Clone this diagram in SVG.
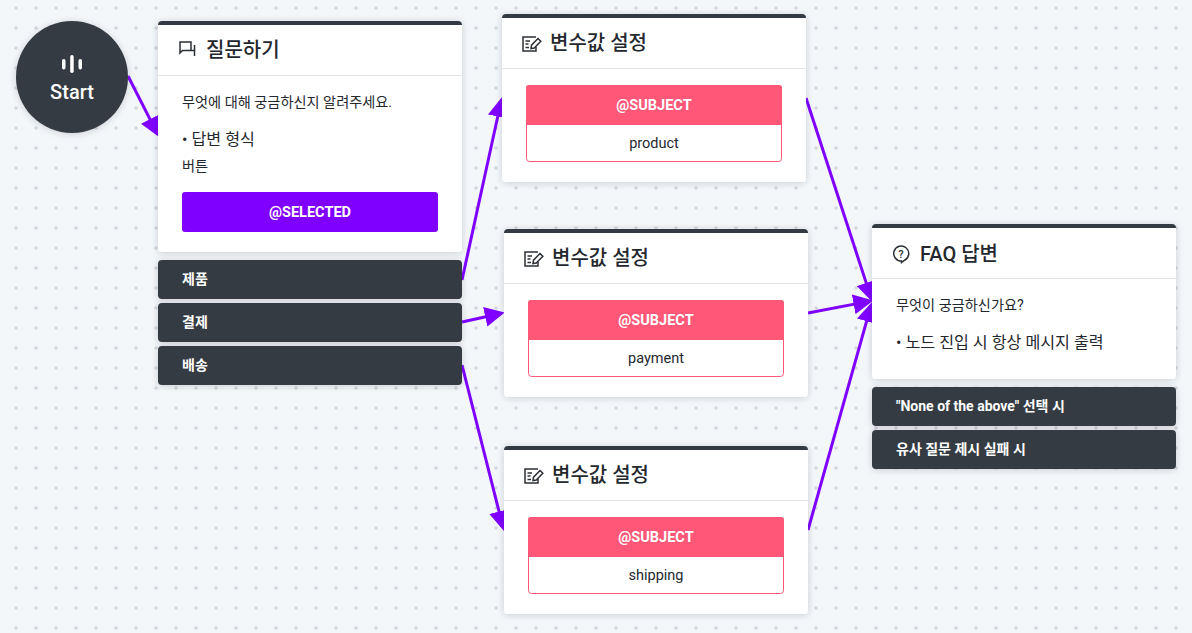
<svg xmlns="http://www.w3.org/2000/svg" width="1192" height="633" viewBox="0 0 1192 633">
<style>
text{font-family:Roboto,"Noto Sans CJK KR",sans-serif}
.card{fill:#fff;filter:url(#sh)}
.bar{fill:#343a43}
.div{stroke:#e3e4e8;stroke-width:1}
.title{font-size:20px;font-weight:500;fill:#24282e}
.body{font-size:14.200px;fill:#24282e}
.bullet{font-size:16.150px;fill:#24282e}
.opt{fill:#343a43;filter:url(#sh)}
.optt{font-size:14px;font-weight:700;fill:#fff}
.pink{fill:#ff5777}
.val{fill:#fff;stroke:#ff5777;stroke-width:1}
.tag{font-size:14.500px;font-weight:700;fill:#fff;text-anchor:middle}
.v{font-size:14.500px;fill:#24282e;text-anchor:middle}
.ic{fill:none;stroke:#2b2f36;stroke-width:1.500}
.edge{fill:none;stroke:#7f00ff;stroke-width:3;marker-end:url(#ah)}
</style>
<defs>
<pattern id="dots" x="6" y="-2" width="20" height="20" patternUnits="userSpaceOnUse"><circle cx="10" cy="10" r="1.800" fill="#d2d5da"/></pattern>
<filter id="sh" x="-10%" y="-15%" width="120%" height="130%"><feDropShadow dx="0" dy="1" stdDeviation="3" flood-color="#343a43" flood-opacity=".22"/></filter>
<marker id="ah" markerUnits="userSpaceOnUse" markerWidth="20" markerHeight="20" refX="10" refY="10" orient="auto" viewBox="0 0 20 20"><path d="M0 0L20 10L0 20Z" fill="#7f00ff"/></marker>
<g id="edit"><path class="ic" d="M14 2H1V16H14V12"/><path class="ic" d="M3.500 6H8M3.500 9H6.500M3.500 12.500H7"/><path d="M9 13.500L9.500 10.200L16 3.500L18.800 6.200L12.300 13Z" fill="none" stroke="#2b2f36" stroke-width="1.500"/></g>
</defs>
<rect width="1192" height="633" fill="#f3f7fa"/>
<rect width="1192" height="633" fill="url(#dots)"/>
<g id="connectors">
<path class="edge" d="M128 76L154.500 128.100"/>
<path class="edge" d="M462 280L499.900 106.800"/>
<path class="edge" d="M462 322L495 314.700"/>
<path class="edge" d="M462 365L501.500 521.200"/>
<path class="edge" d="M806 98L869.300 292.400"/>
<path class="edge" d="M808 313L863.500 302.400"/>
<path class="edge" d="M808 530L869.300 311.600"/>
</g>
<g id="start">
<circle cx="72" cy="77" r="56" fill="#343a43" filter="url(#sh)"/>
<g fill="#fff"><rect x="62" y="59" width="3.500" height="10.500" rx="1.700"/><rect x="70.200" y="55" width="3.500" height="18" rx="1.700"/><rect x="78.500" y="59" width="3.500" height="10.500" rx="1.700"/></g>
<text x="72" y="99" font-size="20" font-weight="500" fill="#fff" text-anchor="middle">Start</text>
</g>
<g id="question">
<rect class="card" x="158" y="21" width="304" height="231" rx="4"/>
<path class="bar" d="M158 25a4 4 0 0 1 4-4H458a4 4 0 0 1 4 4Z"/>
<path class="div" d="M158 75.500H462"/>
<path class="ic" d="M191 50.500V42H180V53L182.500 50.500H194.500V56"/><path class="ic" d="M194.500 45V50.500"/>
<text class="title" x="206" y="56.500">질문하기</text>
<text class="body" x="182" y="106.500">무엇에 대해 궁금하신지 알려주세요.</text>
<text class="bullet" x="182" y="144.500">• 답변 형식</text>
<text class="body" x="182" y="170.500">버튼</text>
<rect x="182" y="192" width="256" height="40" rx="3" fill="#8000ff"/>
<text class="tag" x="310" y="217.300">@SELECTED</text>
<rect class="opt" x="158" y="260" width="304" height="39" rx="4"/>
<text class="optt" x="182" y="284">제품</text>
<rect class="opt" x="158" y="303" width="304" height="39" rx="4"/>
<text class="optt" x="182" y="327">결제</text>
<rect class="opt" x="158" y="346" width="304" height="39" rx="4"/>
<text class="optt" x="182" y="370">배송</text>
</g>
<g id="set-product">
<rect class="card" x="502" y="14" width="304" height="168" rx="4"/>
<path class="bar" d="M502 18a4 4 0 0 1 4-4H802a4 4 0 0 1 4 4Z"/>
<path class="div" d="M502 68.500H806"/>
<use href="#edit" x="522" y="35"/>
<text class="title" x="550" y="49.500">변수값 설정</text>
<rect class="val" x="526.500" y="85.500" width="255" height="76" rx="3"/>
<path class="pink" d="M526 125V88a3 3 0 0 1 3-3H779a3 3 0 0 1 3 3V125Z"/>
<text class="tag" x="654" y="110.300">@SUBJECT</text>
<text class="v" x="654" y="148.300">product</text>
</g>
<g id="set-payment">
<rect class="card" x="504" y="229" width="304" height="168" rx="4"/>
<path class="bar" d="M504 233a4 4 0 0 1 4-4H804a4 4 0 0 1 4 4Z"/>
<path class="div" d="M504 283.500H808"/>
<use href="#edit" x="524" y="250"/>
<text class="title" x="552" y="264.500">변수값 설정</text>
<rect class="val" x="528.500" y="300.500" width="255" height="76" rx="3"/>
<path class="pink" d="M528 340V303a3 3 0 0 1 3-3H781a3 3 0 0 1 3 3V340Z"/>
<text class="tag" x="656" y="325.300">@SUBJECT</text>
<text class="v" x="656" y="363.300">payment</text>
</g>
<g id="set-shipping">
<rect class="card" x="504" y="446" width="304" height="168" rx="4"/>
<path class="bar" d="M504 450a4 4 0 0 1 4-4H804a4 4 0 0 1 4 4Z"/>
<path class="div" d="M504 500.500H808"/>
<use href="#edit" x="524" y="467"/>
<text class="title" x="552" y="481.500">변수값 설정</text>
<rect class="val" x="528.500" y="517.500" width="255" height="76" rx="3"/>
<path class="pink" d="M528 557V520a3 3 0 0 1 3-3H781a3 3 0 0 1 3 3V557Z"/>
<text class="tag" x="656" y="542.300">@SUBJECT</text>
<text class="v" x="656" y="580.300">shipping</text>
</g>
<g id="faq">
<rect class="card" x="872" y="224" width="304" height="155" rx="4"/>
<path class="bar" d="M872 228a4 4 0 0 1 4-4H1172a4 4 0 0 1 4 4Z"/>
<path class="div" d="M872 278.500H1176"/>
<path class="ic" d="M901.500 261A7.500 7.500 0 1 1 905 260L901.500 262.500Z"/>
<text x="901" y="257.500" font-size="11" font-weight="500" fill="#2b2f36" text-anchor="middle">?</text>
<text class="title" x="920" y="260.500">FAQ 답변</text>
<text class="body" x="896" y="309.500">무엇이 궁금하신가요?</text>
<text class="bullet" x="896" y="347.500">• 노드 진입 시 항상 메시지 출력</text>
<rect class="opt" x="872" y="387" width="304" height="39" rx="4"/>
<text class="optt" x="896" y="411">"None of the above" 선택 시</text>
<rect class="opt" x="872" y="430" width="304" height="39" rx="4"/>
<text class="optt" x="896" y="454">유사 질문 제시 실패 시</text>
</g>
</svg>
